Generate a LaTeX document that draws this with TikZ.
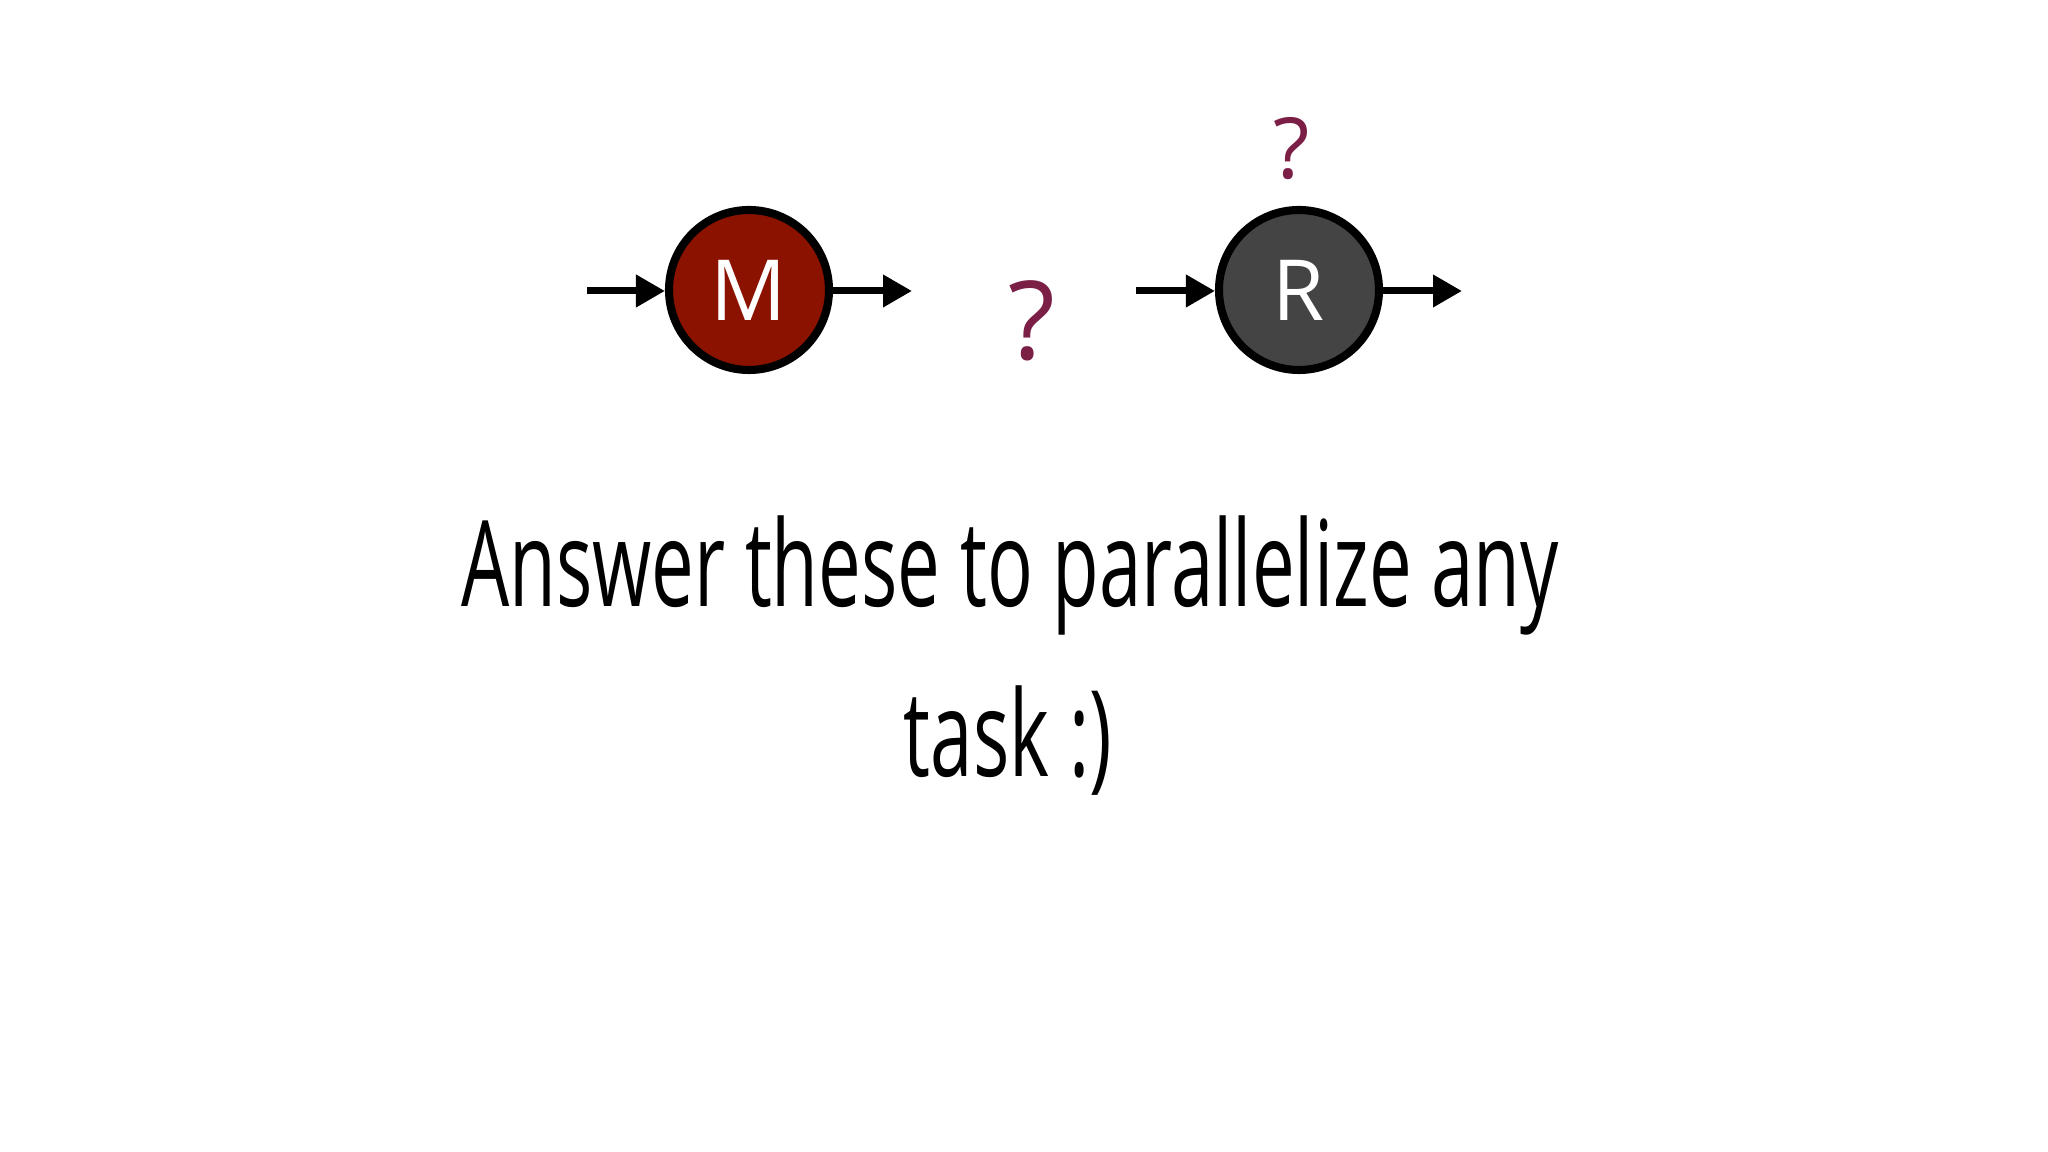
\documentclass[tikz,border=0pt]{standalone}
\usepackage{fontspec}
\setmainfont{Open Sans}
\usetikzlibrary{arrows.meta}
\definecolor{mred}{HTML}{8C1200}
\definecolor{rgray}{HTML}{444444}
\definecolor{qcol}{HTML}{7B1F47}
\tikzset{
  stage/.style={circle, draw=black, line width=2.3pt, minimum size=1.6cm, inner sep=0pt, text=white, font=\fontsize{24}{24}\selectfont},
  flow/.style={line width=2pt, -{Triangle[length=0.29cm,width=0.31cm]}},
  qmark/.style={text=qcol, inner sep=0pt},
  caption/.style={anchor=base, inner sep=0pt, font=\fontsize{34}{34}\selectfont}
}
\begin{document}
\begin{tikzpicture}
\useasboundingbox (0,0) rectangle (20.48,11.52);
\fill[white] (0,0) rectangle (20.48,11.52);
\node[stage, fill=mred] (M) at (7.49,8.62) {M};
\node[stage, fill=rgray] (R) at (12.99,8.62) {R};
\coordinate (min) at (5.87,8.61);
\coordinate (mout) at (9.12,8.61);
\coordinate (rin) at (11.36,8.61);
\coordinate (rout) at (14.62,8.61);
\draw[flow] (min) -- (min -| M.west);
\draw[flow] (mout -| M.east) -- (mout);
\draw[flow] (rin) -- (rin -| R.west);
\draw[flow] (rout -| R.east) -- (rout);
\node[qmark, font=\fontsize{24}{24}\selectfont] (q1) at (12.92,10.03) {?};
\node[qmark, font=\fontsize{31}{31}\selectfont] (q2) at (10.32,8.31) {?};
\node[caption] (l1) at (10.10,5.45) {\scalebox{0.637}[1]{Answer these to parallelize any}};
\node[caption] (l2) at (10.08,3.75) {\scalebox{0.637}[1]{task :)}};
\end{tikzpicture}
\end{document}
